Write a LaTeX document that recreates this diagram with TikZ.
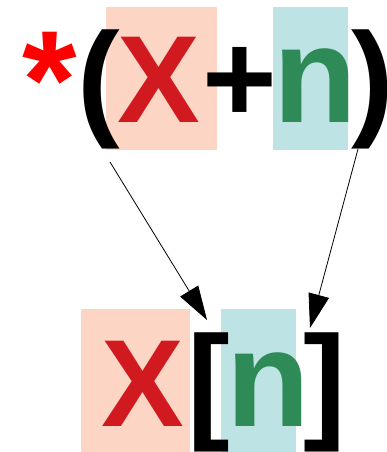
\documentclass[tikz,border=0pt]{standalone}
\usepackage{fontspec}
\setmainfont{Liberation Sans}
\usetikzlibrary{arrows.meta}
\definecolor{salmonbg}{RGB}{252,213,196}
\definecolor{tealbg}{RGB}{189,227,228}
\definecolor{xred}{RGB}{208,26,31}
\definecolor{ngreen}{RGB}{46,139,87}
\tikzset{
  box/.style={draw=none, inner sep=0pt, anchor=north west},
  glyph/.style={inner sep=0pt, anchor=base, font=\bfseries\fontsize{128}{128}\selectfont},
  xglyph/.style={inner sep=0pt, anchor=base, text=xred, font=\bfseries\fontsize{124}{124}\selectfont},
  nglyph/.style={inner sep=0pt, anchor=base, text=ngreen, font=\bfseries\fontsize{137}{137}\selectfont},
  conn/.style={line width=0.8pt, -{Triangle[length=34pt,width=21pt]}}
}
\begin{document}
\begin{tikzpicture}[x=1pt,y=-1pt]
\useasboundingbox (0,0) rectangle (387,452);
% boxes
\node[box, fill=salmonbg, minimum width=111pt, minimum height=143pt] (tbx) at (106,7) {};
\node[box, fill=tealbg, minimum width=75pt, minimum height=143pt] (tbn) at (273,7) {};
\node[box, fill=salmonbg, minimum width=109pt, minimum height=143pt] (bbx) at (81,309) {};
\node[box, fill=tealbg, minimum width=75pt, minimum height=143pt] (bbn) at (221,309) {};
% top expression
\node[glyph, text=red, font=\bfseries\fontsize{140}{140}\selectfont] (ast) at (50,128) {*};
\node[glyph] (lp) at (99,122) {(};
\node[xglyph] (tx) at (159,122) {X};
\node[glyph] (plus) at (240,122) {+};
\node[nglyph] (tn) at (315,122) {n};
\node[glyph] (rp) at (373,122) {)};
% bottom expression
\node[xglyph] (bx) at (143,426) {X};
\node[glyph] (lb) at (209,425) {[};
\node[nglyph] (bn) at (268,426) {n};
\node[glyph] (rb) at (325,425) {]};
% connectors
\coordinate (s1) at (110,162);
\coordinate (e1) at (207,320);
\coordinate (s2) at (358,149);
\coordinate (e2) at (310,328);
\draw[conn] (s1) -- (e1);
\draw[conn] (s2) -- (e2);
\end{tikzpicture}
\end{document}
